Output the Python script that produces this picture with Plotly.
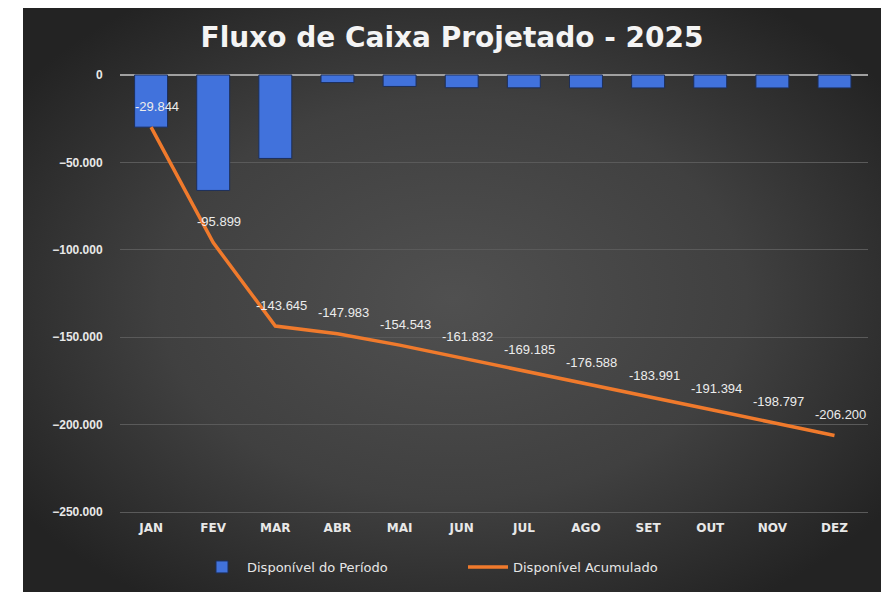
import base64
import plotly.graph_objects as go

meses = ["JAN", "FEV", "MAR", "ABR", "MAI", "JUN", "JUL", "AGO", "SET", "OUT", "NOV", "DEZ"]
disponivel_periodo = [-29844, -66055, -47746, -4338, -6560, -7289, -7353, -7403, -7403, -7403, -7403, -7403]
disponivel_acumulado = [-29844, -95899, -143645, -147983, -154543, -161832, -169185, -176588, -183991, -191394, -198797, -206200]
y_ticks = [0, -50000, -100000, -150000, -200000, -250000]

# page body has an 8px margin: figure occupies window x 8..889, y 8..592
OFF = 8
W, H = 889 - OFF, 592 - OFF
L, R, T, B = 120 - OFF, 21, 61 - OFF, 592 - 519
pw, ph = W - L - R, H - T - B

LABEL_FONT = "Liberation Sans, Arial, sans-serif"
WIDE_FONT = "DejaVu Sans, sans-serif"

fig = go.Figure()
fig.add_trace(go.Bar(
    x=meses, y=disponivel_periodo, name="Disponível do Período",
    marker=dict(color="#4172dc", line=dict(color="#1d2f5a", width=1)),
))
fig.add_trace(go.Scatter(
    x=meses, y=disponivel_acumulado, name="Disponível Acumulado", mode="lines",
    line=dict(color="#f07a2c", width=3.5),
))

def fmt(v):
    return f"{v:,}".replace(",", ".")

for m, v in zip(meses, disponivel_acumulado):
    fig.add_annotation(x=m, y=v, text=fmt(v), showarrow=False,
                       xshift=6, yshift=21,
                       font=dict(family=LABEL_FONT, size=13, color="#ececec"))

svg = '''<svg xmlns="http://www.w3.org/2000/svg" width="860" height="587" viewBox="0 0 860 587">
<defs><radialGradient id="g" cx="50%" cy="50%" r="62%">
<stop offset="0%" stop-color="#505050"/><stop offset="55%" stop-color="#404040"/><stop offset="100%" stop-color="#232323"/>
</radialGradient></defs><rect width="860" height="587" fill="url(#g)"/></svg>'''
src = "data:image/svg+xml;base64," + base64.b64encode(svg.encode()).decode()

x0, x1, y0 = 23 - OFF, 883 - OFF, 5 - OFF
fig.add_layout_image(dict(
    source=src, xref="paper", yref="paper",
    x=(x0 - L) / pw, y=(H - B - y0) / ph,
    sizex=(x1 - x0) / pw, sizey=(H - y0) / ph,
    xanchor="left", yanchor="top", sizing="stretch", layer="below",
))

fig.update_layout(
    width=W, height=H,
    margin=dict(l=L, r=R, t=T, b=B, autoexpand=False),
    paper_bgcolor="white", plot_bgcolor="rgba(0,0,0,0)",
    separators=",.",
    bargap=0.47,
    title=dict(text="Fluxo de Caixa Projetado - 2025", x=(452 - OFF) / W, xanchor="center",
               y=1 - (37 - OFF) / H, yanchor="middle", yref="container",
               font=dict(family=WIDE_FONT, size=28, color="#f4f4f4", weight="bold")),
    showlegend=True,
    legend=dict(orientation="h", x=(197 - 120) / pw, xanchor="left",
                y=-(567 - 519) / ph, yanchor="middle",
                bgcolor="rgba(0,0,0,0)", itemwidth=40,
                entrywidth=211, entrywidthmode="pixels",
                font=dict(family=WIDE_FONT, size=13, color="#e6e6e6")),
    xaxis=dict(showgrid=False, showline=False, zeroline=False,
               ticks="", ticklen=0,
               tickfont=dict(family=WIDE_FONT, size=12, color="#e8e8e8", weight="bold")),
    yaxis=dict(range=[-254000, 8000], tickvals=y_ticks, tickformat=",d",
               showgrid=True, gridcolor="#5a5a5a", gridwidth=1,
               zeroline=True, zerolinecolor="#a0a0a0", zerolinewidth=1.5,
               showline=False, ticks="outside", ticklen=14, tickcolor="rgba(0,0,0,0)",
               tickfont=dict(family=LABEL_FONT, size=12, color="#e8e8e8", weight="bold")),
)

fig.write_html("out.html")
